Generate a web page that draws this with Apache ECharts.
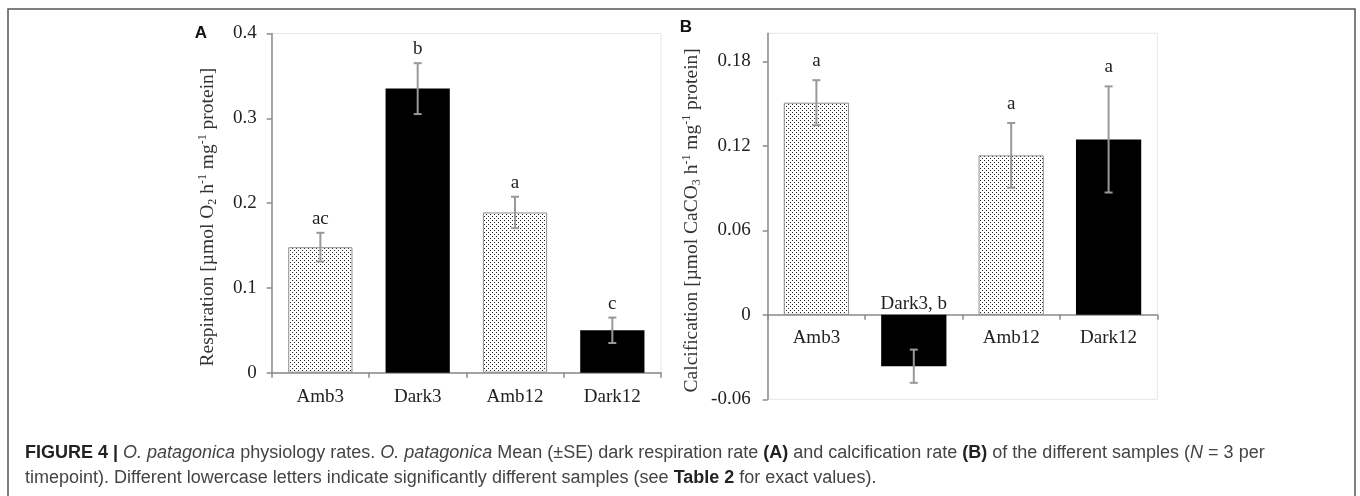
<!DOCTYPE html>
<html>
<head>
<meta charset="utf-8">
<script src="https://cdn.jsdelivr.net/npm/echarts@6/dist/echarts.min.js"></script>
<style>
html,body{margin:0;padding:0;background:#fff;}
#main{width:1360px;height:496px;}
</style>
</head>
<body>
<div id="main"></div>
<script>
// ---- data ----
const categories = ['Amb3', 'Dark3', 'Amb12', 'Dark12'];
const respMean = [0.148, 0.335, 0.189, 0.050];
const respSE = [0.017, 0.030, 0.0185, 0.015];
const respLetters = ['ac', 'b', 'a', 'c'];
const calcMean = [0.1507, -0.0365, 0.1133, 0.1246];
const calcSE = [0.016, 0.0118, 0.023, 0.0377];
const calcLetters = ['a', 'Dark3, b', 'a', 'a'];
const respTicks = [0, 0.1, 0.2, 0.3, 0.4];
const calcTicks = [-0.06, 0, 0.06, 0.12, 0.18];

// ---- layout / styles ----
const SERIF = '"Liberation Serif", "Times New Roman", serif';
const SANS = '"Liberation Sans", Arial, sans-serif';
const axisGray = '#8a8a8a';
const calcMin = -0.06, calcMax = 0.2;
const gridB = {left: 767.7, top: 33.3, width: 389.6, height: 366};
const zeroOffsetB = -((0 - calcMin) / (calcMax - calcMin)) * gridB.height;

const tile = document.createElement('canvas');
tile.width = 4; tile.height = 4;
(function(){
  const c = tile.getContext('2d');
  c.fillStyle = '#fff'; c.fillRect(0,0,4,4);
  c.fillStyle = '#222';
  c.fillRect(0,0,1,1); c.fillRect(2,2,1,1);
})();
const dotted = {image: tile, repeat: 'repeat'};

function barData(means) {
  return means.map((v, i) => ({
    value: v,
    itemStyle: categories[i].startsWith('Amb')
      ? {color: dotted, borderColor: '#8f8f8f', borderWidth: 1}
      : {color: '#000', borderWidth: 0}
  }));
}
function errData(means, ses) {
  return means.map((v, i) => [i, v, ses[i]]);
}
function errRender(letters, offset, negOffset) {
  return function(params, api) {
    const i = api.value(0), m = api.value(1), se = api.value(2);
    const top = api.coord([i, m + se]);
    const bot = api.coord([i, m - se]);
    const base = api.coord([i, 0]);
    const cap = 4;
    const st = {stroke: '#999', lineWidth: 2};
    const ly = m >= 0 ? top[1] - offset : base[1] - negOffset;
    return {type: 'group', children: [
      {type: 'line', shape: {x1: top[0], y1: top[1], x2: bot[0], y2: bot[1]}, style: st},
      {type: 'line', shape: {x1: top[0]-cap, y1: top[1], x2: top[0]+cap, y2: top[1]}, style: st},
      {type: 'line', shape: {x1: bot[0]-cap, y1: bot[1], x2: bot[0]+cap, y2: bot[1]}, style: st},
      {type: 'text', style: {text: letters[i], x: top[0], y: ly, align: 'center', verticalAlign: 'middle',
        fontSize: 19, fontFamily: SERIF, fill: '#222'}}
    ]};
  };
}
const fmt = v => String(+(+v).toFixed(2));

const nameRich = {
  n: {fontSize: 19.5, fontFamily: SERIF, color: '#333', lineHeight: 22},
  sub: {fontSize: 12, fontFamily: SERIF, color: '#333', verticalAlign: 'bottom'},
  sup: {fontSize: 12, fontFamily: SERIF, color: '#333', verticalAlign: 'top'}
};

const chart = echarts.init(document.getElementById('main'), null, {renderer: 'canvas'});
const option = {
  animation: false,
  backgroundColor: '#fff',
  grid: [
    {left: 271.7, top: 33.5, width: 389.3, height: 339.2, show: true, borderColor: '#e6e6e6', borderWidth: 1, containLabel: false},
    {left: gridB.left, top: gridB.top, width: gridB.width, height: gridB.height, show: true, borderColor: '#e6e6e6', borderWidth: 1, containLabel: false}
  ],
  xAxis: [
    {type: 'category', gridIndex: 0, data: categories,
      axisLine: {lineStyle: {color: axisGray, width: 1.5}},
      axisTick: {show: true, length: 5, lineStyle: {color: axisGray, width: 1.5}},
      axisLabel: {margin: 15, fontSize: 19, fontFamily: SERIF, color: '#222'}},
    {type: 'category', gridIndex: 1, data: categories, offset: zeroOffsetB,
      axisLine: {onZero: false, lineStyle: {color: axisGray, width: 1.5}},
      axisTick: {show: true, length: 5, lineStyle: {color: axisGray, width: 1.5}},
      axisLabel: {margin: 14, fontSize: 19, fontFamily: SERIF, color: '#222',
        formatter: (v, i) => (i === 1 ? '' : v)}}
  ],
  yAxis: [
    {type: 'value', gridIndex: 0, min: 0, max: 0.4, interval: 0.1,
      splitLine: {show: false},
      axisLine: {show: true, lineStyle: {color: axisGray, width: 1.5}},
      axisTick: {show: true, length: 5, lineStyle: {color: axisGray, width: 1.5}},
      axisLabel: {margin: 15, fontSize: 19, fontFamily: SERIF, color: '#222', formatter: fmt, customValues: respTicks},
      name: '{n|Respiration [µmol O}{sub|2}{n| h}{sup|-1}{n| mg}{sup|-1}{n| protein]}',
      nameLocation: 'middle', nameRotate: 90, nameGap: 53,
      nameTextStyle: {rich: nameRich, padding: [0, 28, 0, 0]}},
    {type: 'value', gridIndex: 1, min: calcMin, max: calcMax, interval: 0.06,
      splitLine: {show: false},
      axisLine: {show: true, lineStyle: {color: axisGray, width: 1.5}},
      axisTick: {show: true, length: 5, lineStyle: {color: axisGray, width: 1.5}, customValues: calcTicks},
      axisLabel: {margin: 17, fontSize: 19, fontFamily: SERIF, color: '#222', formatter: fmt, customValues: calcTicks},
      name: '{n|Calcification [µmol CaCO}{sub|3}{n| h}{sup|-1}{n| mg}{sup|-1}{n| protein]}',
      nameLocation: 'middle', nameRotate: 90, nameGap: 65,
      nameTextStyle: {rich: nameRich, padding: [0, 8, 0, 0]}}
  ],
  series: [
    {type: 'bar', xAxisIndex: 0, yAxisIndex: 0, barWidth: '66%', data: barData(respMean)},
    {type: 'custom', xAxisIndex: 0, yAxisIndex: 0, renderItem: errRender(respLetters, 14, 11),
      data: errData(respMean, respSE), z: 5},
    {type: 'bar', xAxisIndex: 1, yAxisIndex: 1, barWidth: '67%', data: barData(calcMean)},
    {type: 'custom', xAxisIndex: 1, yAxisIndex: 1, renderItem: errRender(calcLetters, 19, 11),
      data: errData(calcMean, calcSE), z: 5}
  ],
  graphic: [
    {type: 'rect', shape: {x: 8, y: 9, width: 1347, height: 600}, style: {fill: 'none', stroke: '#555', lineWidth: 1.5}, silent: true},
    {type: 'text', x: 201, y: 33, style: {text: 'A', fontSize: 17, fontWeight: 'bold', fontFamily: SANS, fill: '#111', align: 'center', verticalAlign: 'middle'}},
    {type: 'text', x: 686, y: 27, style: {text: 'B', fontSize: 17, fontWeight: 'bold', fontFamily: SANS, fill: '#111', align: 'center', verticalAlign: 'middle'}},
    {type: 'text', x: 25, y: 453, style: {
      text: '{b|FIGURE 4 |} {i|O. patagonica} physiology rates. {i|O. patagonica} Mean (±SE) dark respiration rate {b|(A)} and calcification rate {b|(B)} of the different samples ({i|N} = 3 per',
      verticalAlign: 'middle', fontSize: 18, fontFamily: SANS, fill: '#444',
      rich: {b: {fontWeight: 'bold', fontSize: 18, fontFamily: SANS, fill: '#222'}, i: {fontStyle: 'italic', fontSize: 18, fontFamily: SANS, fill: '#444'}}}},
    {type: 'text', x: 25, y: 478, style: {
      text: 'timepoint). Different lowercase letters indicate significantly different samples (see {b|Table 2} for exact values).',
      verticalAlign: 'middle', fontSize: 18, fontFamily: SANS, fill: '#444',
      rich: {b: {fontWeight: 'bold', fontSize: 18, fontFamily: SANS, fill: '#222'}}}}
  ]
};
chart.setOption(option);
</script>
</body>
</html>
